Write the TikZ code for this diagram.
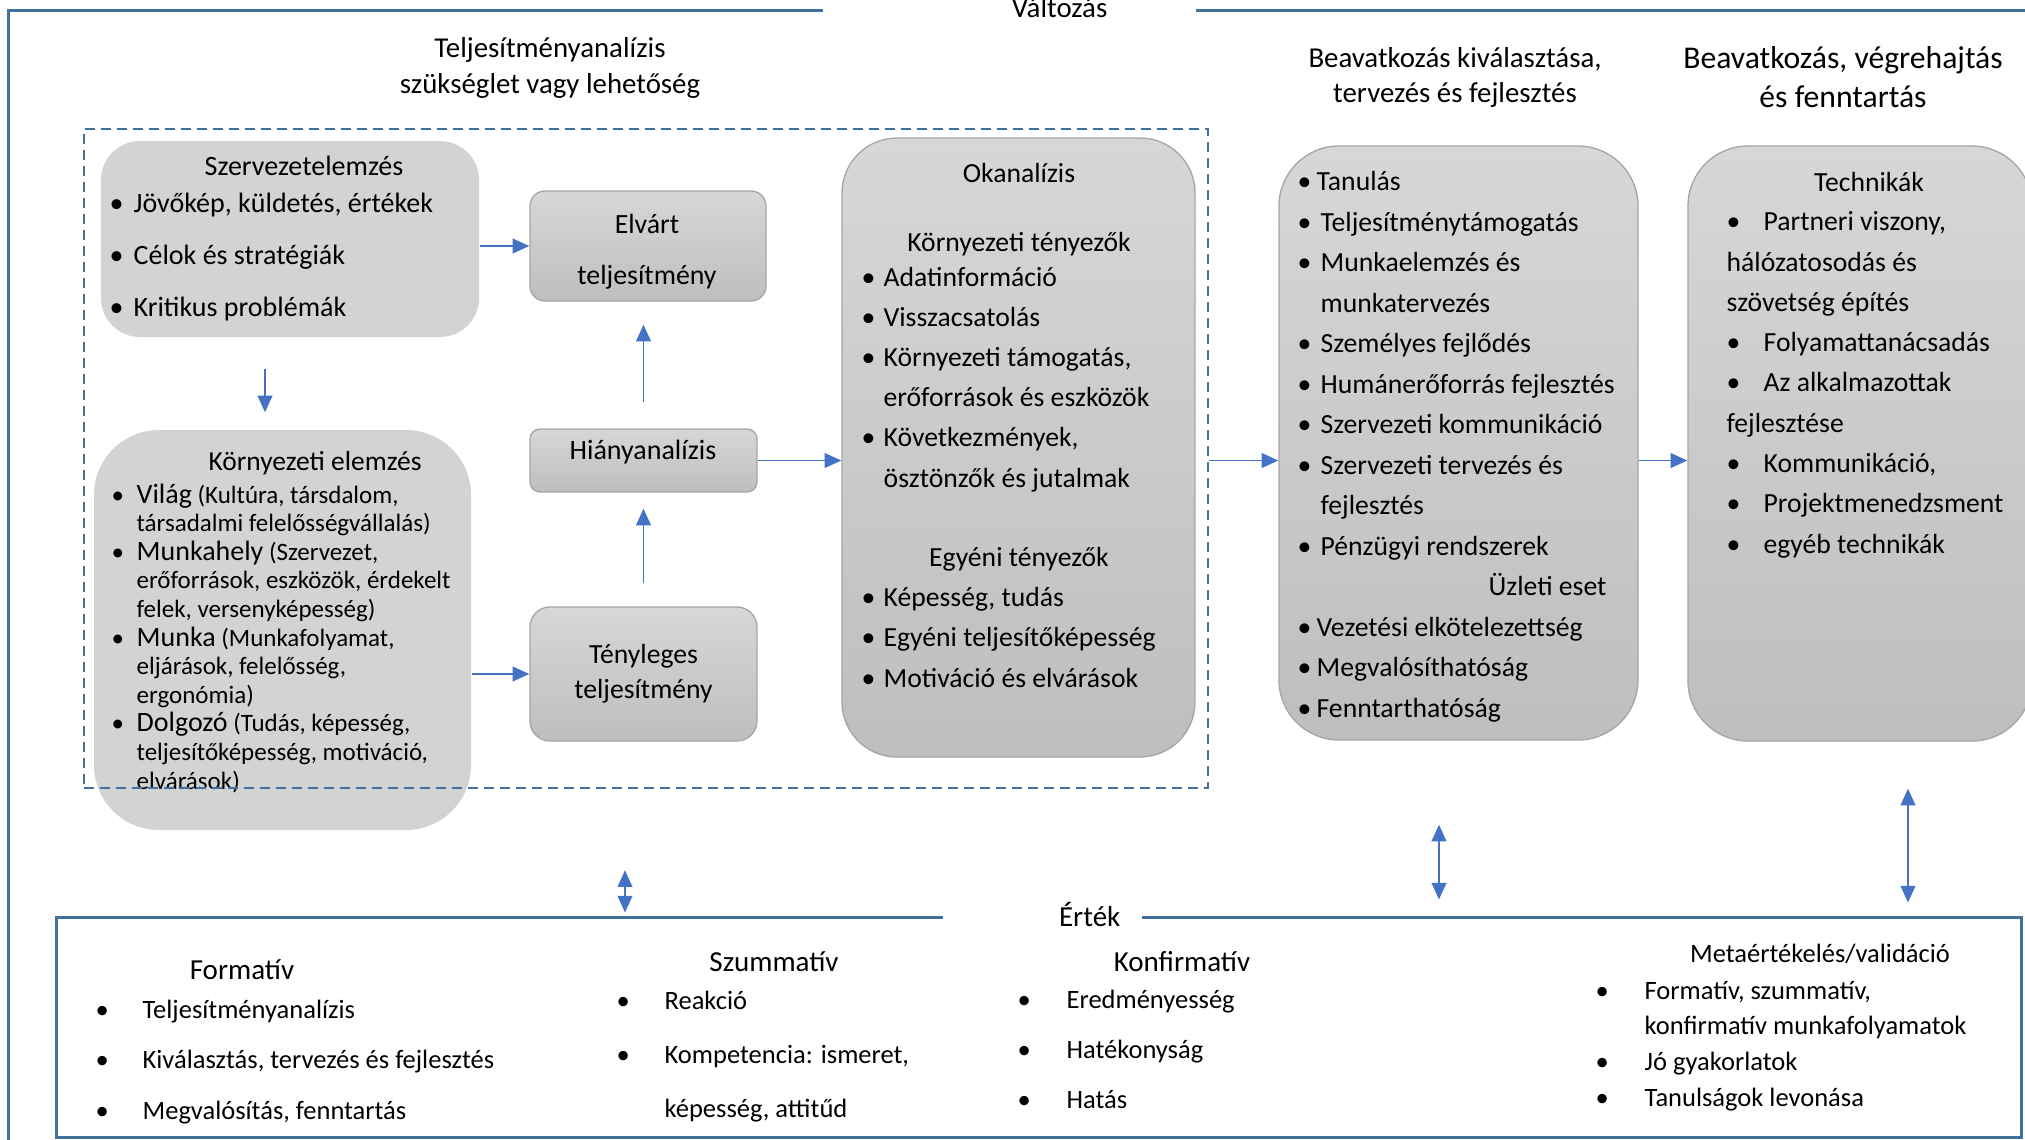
\documentclass[tikz,border=0pt]{standalone}
\usepackage{fontspec}
\setmainfont{Carlito}
\usepackage{tikz}
\usetikzlibrary{positioning,arrows.meta,calc}
\definecolor{frameblue}{HTML}{41719C}
\definecolor{arrowblue}{HTML}{4472C4}
\definecolor{boxgray}{HTML}{D3D3D3}
\definecolor{boxtop}{HTML}{D7D7D7}
\definecolor{boxbot}{HTML}{BEBEBE}
\definecolor{boxline}{HTML}{A6A6A6}
\newcommand{\bul}[1][7pt]{\makebox[#1][l]{\textbullet}}
\newcommand{\fs}[2]{\fontsize{#1}{#2}\selectfont}
\newcommand{\kw}[1]{{\fs{8.4}{8.58}#1}}

\begin{document}
\begin{tikzpicture}[x=0.3pt,y=-0.3pt,
  frame/.style={draw=frameblue,line width=0.9pt},
  dashbox/.style={draw=frameblue,line width=0.75pt,dash pattern=on 3pt off 1.8pt,inner sep=0pt},
  flat/.style={fill=boxgray,draw=none,rounded corners=#1,inner sep=0pt},
  grad/.style={top color=boxtop,bottom color=boxbot,draw=boxline,line width=0.4pt,rounded corners=#1,inner sep=0pt},
  txt/.style={anchor=base,align=center,inner sep=0pt},
  lst/.style={anchor=base west,align=left,inner sep=0pt},
  arr/.style={arrowblue,line width=0.55pt,-{Triangle[length=5pt,width=4.4pt]}},
  darr/.style={arrowblue,line width=0.55pt,{Triangle[length=5pt,width=4.4pt]}-{Triangle[length=5pt,width=4.4pt]}}]
  \useasboundingbox (0,0) rectangle (2025,1139);

  % outer frames
  \draw[frame] (8,1160) -- (8,10) -- (2040,10);
  \node[fill=white,anchor=east,inner xsep=26.7pt,inner ysep=2pt,text width=58.5pt,align=right,font=\fs{8.65}{10}] (valtozas) at (1197,8) {Változás};
  \node[frame,minimum width=589.5pt,minimum height=66pt,inner sep=0pt] (ertekbox) at (1038.5,1027) {};
  \node[fill=white,anchor=east,inner xsep=6.6pt,inner ysep=2pt,text width=46.5pt,align=right,font=\fs{8.7}{10}] (ertek) at (1143,914) {Érték};

  % column titles (base = last line)
  \node[txt,font=\fs{8.65}{10.8}] (tatitle) at (550,93) {Teljesítményanalízis\\szükséglet vagy lehetőség};
  \node[txt,font=\fs{8.65}{10.5}] (valtitle) at (1455,102) {Beavatkozás kiválasztása,\\tervezés és fejlesztés};
  \node[txt,font=\fs{9.5}{11.7}] (vegtitle) at (1843,107) {Beavatkozás, végrehajtás\\és fenntartás};

  % Szervezetelemzés
  \node[flat=11.7pt,minimum width=113.4pt,minimum height=58.8pt] (szerv) at (290,239) {};
  \node[txt,font=\fs{8.4}{10}] (szervt) at (304,175) {Szervezetelemzés};
  \node[lst,font=\fs{8.4}{15.6}] (szervl) at (109,316)
    {\bul[7.2pt]Jövőkép, küldetés, értékek\\\bul[7.2pt]Célok és stratégiák\\\bul[7.2pt]Kritikus problémák};

  % Környezeti elemzés
  \node[flat=19.5pt,minimum width=113.1pt,minimum height=120pt] (korny) at (282.5,630) {};
  \node[txt,font=\fs{8.25}{10}] (kornyt) at (315,470) {Környezeti elemzés};
  \node[lst,font=\fs{7.5}{8.58}] (kornyl) at (111,789)
    {\bul[7.5pt]\kw{Világ} (Kultúra, társdalom,\\
     \hspace*{7.5pt}társadalmi felelősségvállalás)\\
     \bul[7.5pt]\kw{Munkahely} (Szervezet,\\
     \hspace*{7.5pt}erőforrások, eszközök, érdekelt\\
     \hspace*{7.5pt}felek, versenyképesség)\\
     \bul[7.5pt]\kw{Munka} (Munkafolyamat,\\
     \hspace*{7.5pt}eljárások, felelősség,\\
     \hspace*{7.5pt}ergonómia)\\
     \bul[7.5pt]\kw{Dolgozó} (Tudás, képesség,\\
     \hspace*{7.5pt}teljesítőképesség, motiváció,\\
     \hspace*{7.5pt}elvárások)};

  % Elvárt / Hiány / Tényleges
  \node[grad=4.5pt,minimum width=70.8pt,minimum height=33pt] (elvart) at (648,246) {};
  \node[txt,font=\fs{8.35}{15.3}] (elvartt) at (647,284) {Elvárt\\teljesítmény};
  \node[grad=3pt,minimum width=68.1pt,minimum height=18.9pt] (hiany) at (643.5,460.5) {};
  \node[txt,font=\fs{8.4}{10}] (hianyt) at (643,459) {Hiányanalízis};
  \node[grad=6pt,minimum width=68.1pt,minimum height=40.2pt,align=center,font=\fs{8.3}{10.5}] (tenyl) at (643.5,674) {Tényleges\\teljesítmény};

  % Okanalízis
  \node[grad=16.5pt,minimum width=105.9pt,minimum height=185.7pt] (okan) at (1018.5,447.5) {};
  \node[txt,font=\fs{8.3}{10}] (okant) at (1019,182) {Okanalízis};
  \node[txt,font=\fs{8.3}{10}] (okank) at (1019,251) {Környezeti tényezők};
  \node[lst,font=\fs{8.3}{12.06}] (okanl) at (861,487)
    {\bul[6.6pt]Adatinformáció\\
     \bul[6.6pt]Visszacsatolás\\
     \bul[6.6pt]Környezeti támogatás,\\
     \hspace*{6.6pt}erőforrások és eszközök\\
     \bul[6.6pt]Következmények,\\
     \hspace*{6.6pt}ösztönzők és jutalmak};
  \node[txt,font=\fs{8.3}{10}] (okane) at (1019,566) {Egyéni tényezők};
  \node[lst,font=\fs{8.3}{12.06}] (okanm) at (861,687)
    {\bul[6.6pt]Képesség, tudás\\
     \bul[6.6pt]Egyéni teljesítőképesség\\
     \bul[6.6pt]Motiváció és elvárások};

  % Beavatkozás kiválasztása
  \node[grad=18pt,minimum width=107.7pt,minimum height=178.2pt] (valaszt) at (1458.5,443) {};
  \node[lst,font=\fs{8.3}{12.15}] (valasztl) at (1297,717)
    {\bul[5.7pt]Tanulás\\
     \bul[6.9pt]Teljesítménytámogatás\\
     \bul[6.9pt]Munkaelemzés és\\
     \hspace*{6.9pt}munkatervezés\\
     \bul[6.9pt]Személyes fejlődés\\
     \bul[6.9pt]Humánerőforrás fejlesztés\\
     \bul[6.9pt]Szervezeti kommunikáció\\
     \bul[6.9pt]Szervezeti tervezés és\\
     \hspace*{6.9pt}fejlesztés\\
     \bul[6.9pt]Pénzügyi rendszerek\\
     \hspace*{57.3pt}Üzleti eset\\
     \bul[5.7pt]Vezetési elkötelezettség\\
     \bul[5.7pt]Megvalósíthatóság\\
     \bul[5.7pt]Fenntarthatóság};

  % Technikák
  \node[grad=18pt,minimum width=103.2pt,minimum height=178.5pt] (techn) at (1860,443.5) {};
  \node[txt,font=\fs{8.3}{10}] (technt) at (1869,191) {Technikák};
  \node[lst,font=\fs{8.3}{12.08}] (technl) at (1726,553)
    {\bul[11.1pt]Partneri viszony,\\
     hálózatosodás és\\
     szövetség építés\\
     \bul[11.1pt]Folyamattanácsadás\\
     \bul[11.1pt]Az alkalmazottak\\
     fejlesztése\\
     \bul[11.1pt]Kommunikáció,\\
     \bul[11.1pt]Projektmenedzsment\\
     \bul[11.1pt]egyéb technikák};

  % dashed frame of the analysis
  \node[dashbox,minimum width=337.2pt,minimum height=197.7pt] (ta) at (646,458.5) {};

  % arrows
  \draw[arr] (szerv.east |- elvart.west) -- (elvart.west);
  \draw[arr,shorten <=9.3pt,shorten >=5.1pt] ([xshift=-7.5pt]szerv.south) -- ([xshift=-7.5pt]szerv.south |- korny.north);
  \draw[arr,shorten <=7.8pt,shorten >=6.9pt] (hiany.north) -- (hiany.north |- elvart.south);
  \draw[arr,shorten <=6.9pt,shorten >=4.8pt] (tenyl.north) -- (hiany.south);
  \draw[arr] (korny.east |- tenyl.west) -- (tenyl.west);
  \draw[arr] (hiany.east) -- (hiany.east -| okan.west);
  \draw[arr] (ta.east |- hiany.east) -- (valaszt.west |- hiany.east);
  \draw[arr] (valaszt.east |- hiany.east) -- (techn.west |- hiany.east);
  \draw[darr,shorten <=24.3pt,shorten >=0.9pt] ([xshift=-6.3pt]ta.south) -- ([xshift=-6.3pt]ta.south |- ertekbox.north);
  \draw[darr,shorten <=25.2pt,shorten >=4.8pt] ([xshift=-5.85pt]valaszt.south) -- ([xshift=-5.85pt]valaszt.south |- ertekbox.north);
  \draw[darr,shorten <=14.1pt,shorten >=3.9pt] ([xshift=14.4pt]techn.south) -- ([xshift=14.4pt]techn.south |- ertekbox.north);

  % Érték sections
  \node[txt,font=\fs{8.7}{10}] (formt) at (242,979) {Formatív};
  \node[lst,font=\fs{7.95}{15.15}] (forml) at (95,1119)
    {\bul[14.1pt]Teljesítményanalízis\\
     \bul[14.1pt]Kiválasztás, tervezés és fejlesztés\\
     \bul[14.1pt]Megvalósítás, fenntartás};
  \node[txt,font=\fs{8.7}{10}] (szumt) at (774,971) {Szummatív};
  \node[lst,font=\fs{7.95}{16.2}] (szuml) at (616,1117)
    {\bul[14.4pt]Reakció\\
     \bul[14.4pt]Kompetencia: ismeret,\\
     \hspace*{14.4pt}képesség, attitűd};
  \node[txt,font=\fs{8.7}{10}] (konft) at (1182,971) {Konfirmatív};
  \node[lst,font=\fs{7.95}{15}] (konfl) at (1017,1108)
    {\bul[14.7pt]Eredményesség\\
     \bul[14.7pt]Hatékonyság\\
     \bul[14.7pt]Hatás};
  \node[txt,font=\fs{7.95}{10}] (metat) at (1820,962) {Metaértékelés/validáció};
  \node[lst,font=\fs{7.95}{10.7}] (metal) at (1595,1106)
    {\bul[14.7pt]Formatív, szummatív,\\
     \hspace*{14.7pt}konfirmatív munkafolyamatok\\
     \bul[14.7pt]Jó gyakorlatok\\
     \bul[14.7pt]Tanulságok levonása};
\end{tikzpicture}
\end{document}
